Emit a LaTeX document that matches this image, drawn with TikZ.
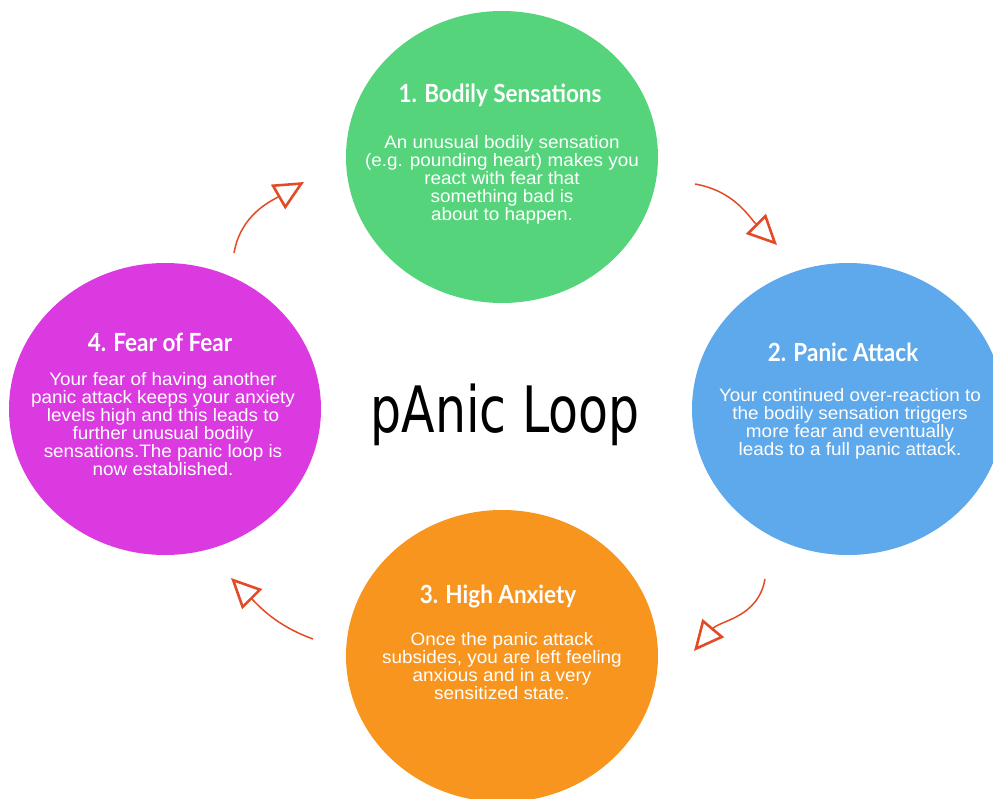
\documentclass[tikz,border=0pt]{standalone}
\usepackage{fontspec}
\setmainfont{Liberation Sans}[FakeStretch=1.05]
\newfontfamily\headfont{Lato}[FakeStretch=0.9]
\newfontfamily\loopfont{DejaVu Sans Condensed}[FakeStretch=0.85]
\usetikzlibrary{shapes.geometric,arrows.meta}
\definecolor{bodilygreen}{HTML}{55D47B}
\definecolor{attackblue}{HTML}{5EA9EB}
\definecolor{anxietyorange}{HTML}{F7951E}
\definecolor{fearpurple}{HTML}{DB3AE0}
\definecolor{arrowred}{HTML}{E34A26}
\begin{document}
\begin{tikzpicture}[x=1pt, y=1pt,
  stage/.style={shape=ellipse, minimum width=312pt, minimum height=292pt, inner sep=0pt},
  heading/.style={anchor=base, inner sep=0pt, text=white, font=\headfont\bfseries\fontsize{25}{28}\selectfont},
  blurb/.style={anchor=north, align=center, inner sep=0pt, text=white, font=\fontsize{18}{18}\selectfont},
  loop arrow/.style={draw=arrowred, line width=1.5pt, -{Triangle[open, length=30pt, width=28pt, line width=2.6pt]}}]
\useasboundingbox (0,0) rectangle (993,-799);
\clip (0,0) rectangle (993,-799);
\node[stage, fill=bodilygreen] (bodily) at (502,-157) {};
\node[stage, fill=attackblue] (attack) at (848,-409) {};
\node[stage, fill=anxietyorange] (anxiety) at (502,-656) {};
\node[stage, fill=fearpurple] (fear) at (165,-409) {};
\node[heading] (bodily title) at (500,-103) {1. Bodily Sensations};
\node[heading] (attack title) at (843,-362) {2. Panic Attack};
\node[heading] (anxiety title) at (498,-603) {3. High Anxiety};
\node[heading] (fear title) at (160,-352) {4. Fear of Fear};
\node[blurb] (bodily text) at (502,-135) {An unusual bodily sensation\\(e.g. pounding heart) makes you\\react with fear that\\something bad is\\about to happen.};
\node[blurb] (attack text) at (850,-388) {Your continued over-reaction to\\the bodily sensation triggers\\more fear and eventually\\leads to a full panic attack.};
\node[blurb] (anxiety text) at (502,-632) {Once the panic attack\\subsides, you are left feeling\\anxious and in a very\\sensitized state.};
\node[blurb] (fear text) at (163,-372) {Your fear of having another\\panic attack keeps your anxiety\\levels high and this leads to\\further unusual bodily\\sensations.The panic loop is\\now established.};
\node[anchor=base, inner sep=0pt, font=\loopfont\fontsize{64}{64}\selectfont] (loop) at (505,-432) {pAnic Loop};
\coordinate (a1s) at (695,-184); \coordinate (a1e) at (777,-245);
\coordinate (a2s) at (765,-579); \coordinate (a2e) at (694,-651);
\coordinate (a3s) at (313,-639); \coordinate (a3e) at (231,-578);
\coordinate (a4s) at (234,-253); \coordinate (a4e) at (304,-182);
\draw[loop arrow] (a1s) to[out=-10, in=135] (a1e);
\draw[loop arrow] (a2s) to[out=-100, in=50] (a2e);
\draw[loop arrow] (a3s) to[out=160, in=-45] (a3e);
\draw[loop arrow] (a4s) to[out=80, in=-150] (a4e);
\end{tikzpicture}
\end{document}
